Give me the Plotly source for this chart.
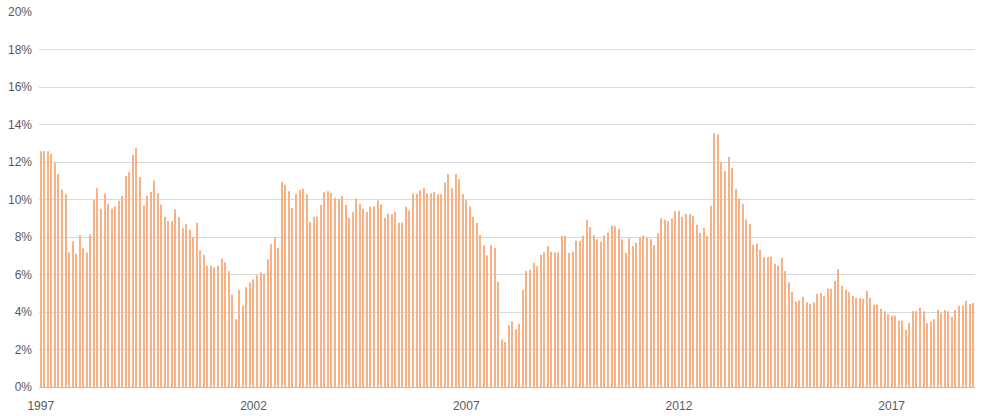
import plotly.graph_objects as go

# Monthly values (%), Jan 1997 .. Dec 2018
values = [
    12.57, 12.57, 12.57, 12.43, 11.96, 11.36, 10.54, 10.28, 7.18, 7.77, 7.11, 8.10, 7.40, 7.18, 8.14, 9.96, 10.60, 9.51, 10.31, 9.78,
    9.51, 9.64, 9.94, 10.19, 11.27, 11.45, 12.39, 12.76, 11.20, 9.69, 10.20, 10.40, 11.02, 10.33, 9.74, 9.08, 8.85, 8.85, 9.48, 9.05, 8.46, 8.71, 8.39,
    8.02, 8.76, 7.29, 7.04, 6.47, 6.47, 6.38, 6.47, 6.86, 6.65, 6.17, 4.94, 3.63, 5.17, 4.32, 5.32, 5.58, 5.74, 5.96, 6.12, 6.04, 6.81,
    7.61, 7.96, 7.41, 10.95, 10.79, 10.44, 9.56, 10.28, 10.51, 10.58, 10.28, 8.80, 9.07, 9.10, 9.71, 10.38, 10.44, 10.35, 10.10, 10.03, 10.17, 9.71, 9.01,
    9.32, 10.06, 9.78, 9.51, 9.35, 9.62, 9.64, 9.96, 9.74, 9.01, 9.24, 9.21, 9.35, 8.76, 8.76, 9.62, 9.42, 10.31, 10.31, 10.49, 10.63, 10.33, 10.33,
    10.38, 10.28, 10.28, 10.92, 11.36, 10.60, 11.36, 11.08, 10.29, 9.96, 9.64, 9.08, 8.76, 8.12, 7.56, 7.02, 7.56, 7.41, 5.62, 2.54, 2.40, 3.29,
    3.50, 3.08, 3.38, 5.17, 6.19, 6.26, 6.61, 6.44, 7.04, 7.18, 7.52, 7.22, 7.18, 7.18, 8.07, 8.07, 7.15, 7.22, 7.80, 7.80, 8.07, 8.92, 8.52,
    8.09, 7.88, 7.75, 8.09, 8.23, 8.60, 8.57, 8.44, 7.88, 7.15, 7.93, 7.52, 7.70, 7.96, 8.07, 7.96, 7.88, 7.56, 8.20, 9.00, 8.92, 8.84,
    9.00, 9.37, 9.40, 9.08, 9.23, 9.23, 9.12, 8.66, 8.23, 8.48, 8.07, 9.67, 13.53, 13.46, 12.00, 11.52, 12.27, 11.68, 10.56, 10.06, 9.78, 8.94, 8.69,
    7.59, 7.66, 7.32, 6.92, 6.92, 6.95, 6.58, 6.47, 6.88, 6.19, 5.58, 5.07, 4.55, 4.62, 4.80, 4.52, 4.44, 4.52, 4.96, 5.00, 4.84, 5.24,
    5.24, 5.65, 6.28, 5.40, 5.19, 5.05, 4.85, 4.75, 4.75, 4.71, 5.14, 4.75, 4.39, 4.39, 4.18, 4.04, 3.88, 3.80, 3.80, 3.54, 3.54, 3.06, 3.43,
    4.04, 4.04, 4.23, 4.04, 3.40, 3.48, 3.61, 4.12, 3.93, 4.11, 4.04, 3.75, 4.12, 4.34, 4.34, 4.60, 4.41, 4.48,
]
months = list(range(len(values)))
tick_positions = [0, 60, 120, 180, 240]
tick_labels = ["1997", "2002", "2007", "2012", "2017"]
y_ticks = [0, 2, 4, 6, 8, 10, 12, 14, 16, 18, 20]
y_tick_labels = [f"{v}%" for v in y_ticks]

fig = go.Figure(go.Bar(
    x=months, y=values,
    marker=dict(color="#F7B184", line=dict(width=0)),
    width=0.3,
))

fig.update_layout(
    width=983, height=416,
    margin=dict(l=39, r=8, t=12, b=29, autoexpand=False),
    paper_bgcolor="white", plot_bgcolor="white",
    showlegend=False,
    font=dict(family="Liberation Sans, Arial, sans-serif", size=12, color="#595959"),
)
fig.update_xaxes(
    range=[-0.5, 263.5], automargin=False,
    tickmode="array", tickvals=tick_positions, ticktext=tick_labels,
    showgrid=False, showline=True, linecolor="#BFBFBF", linewidth=1,
    ticks="", zeroline=False, ticklabelstandoff=8,
)
fig.update_yaxes(
    range=[0, 20], automargin=False,
    tickmode="array", tickvals=y_ticks, ticktext=y_tick_labels,
    showgrid=True, gridcolor="#D9D9D9", gridwidth=1,
    zeroline=False, showline=False, ticks="", ticklabelstandoff=6,
)

fig.write_html(
    "out.html",
    config={"displayModeBar": False},
    post_script="document.body.style.margin='0';",
)
